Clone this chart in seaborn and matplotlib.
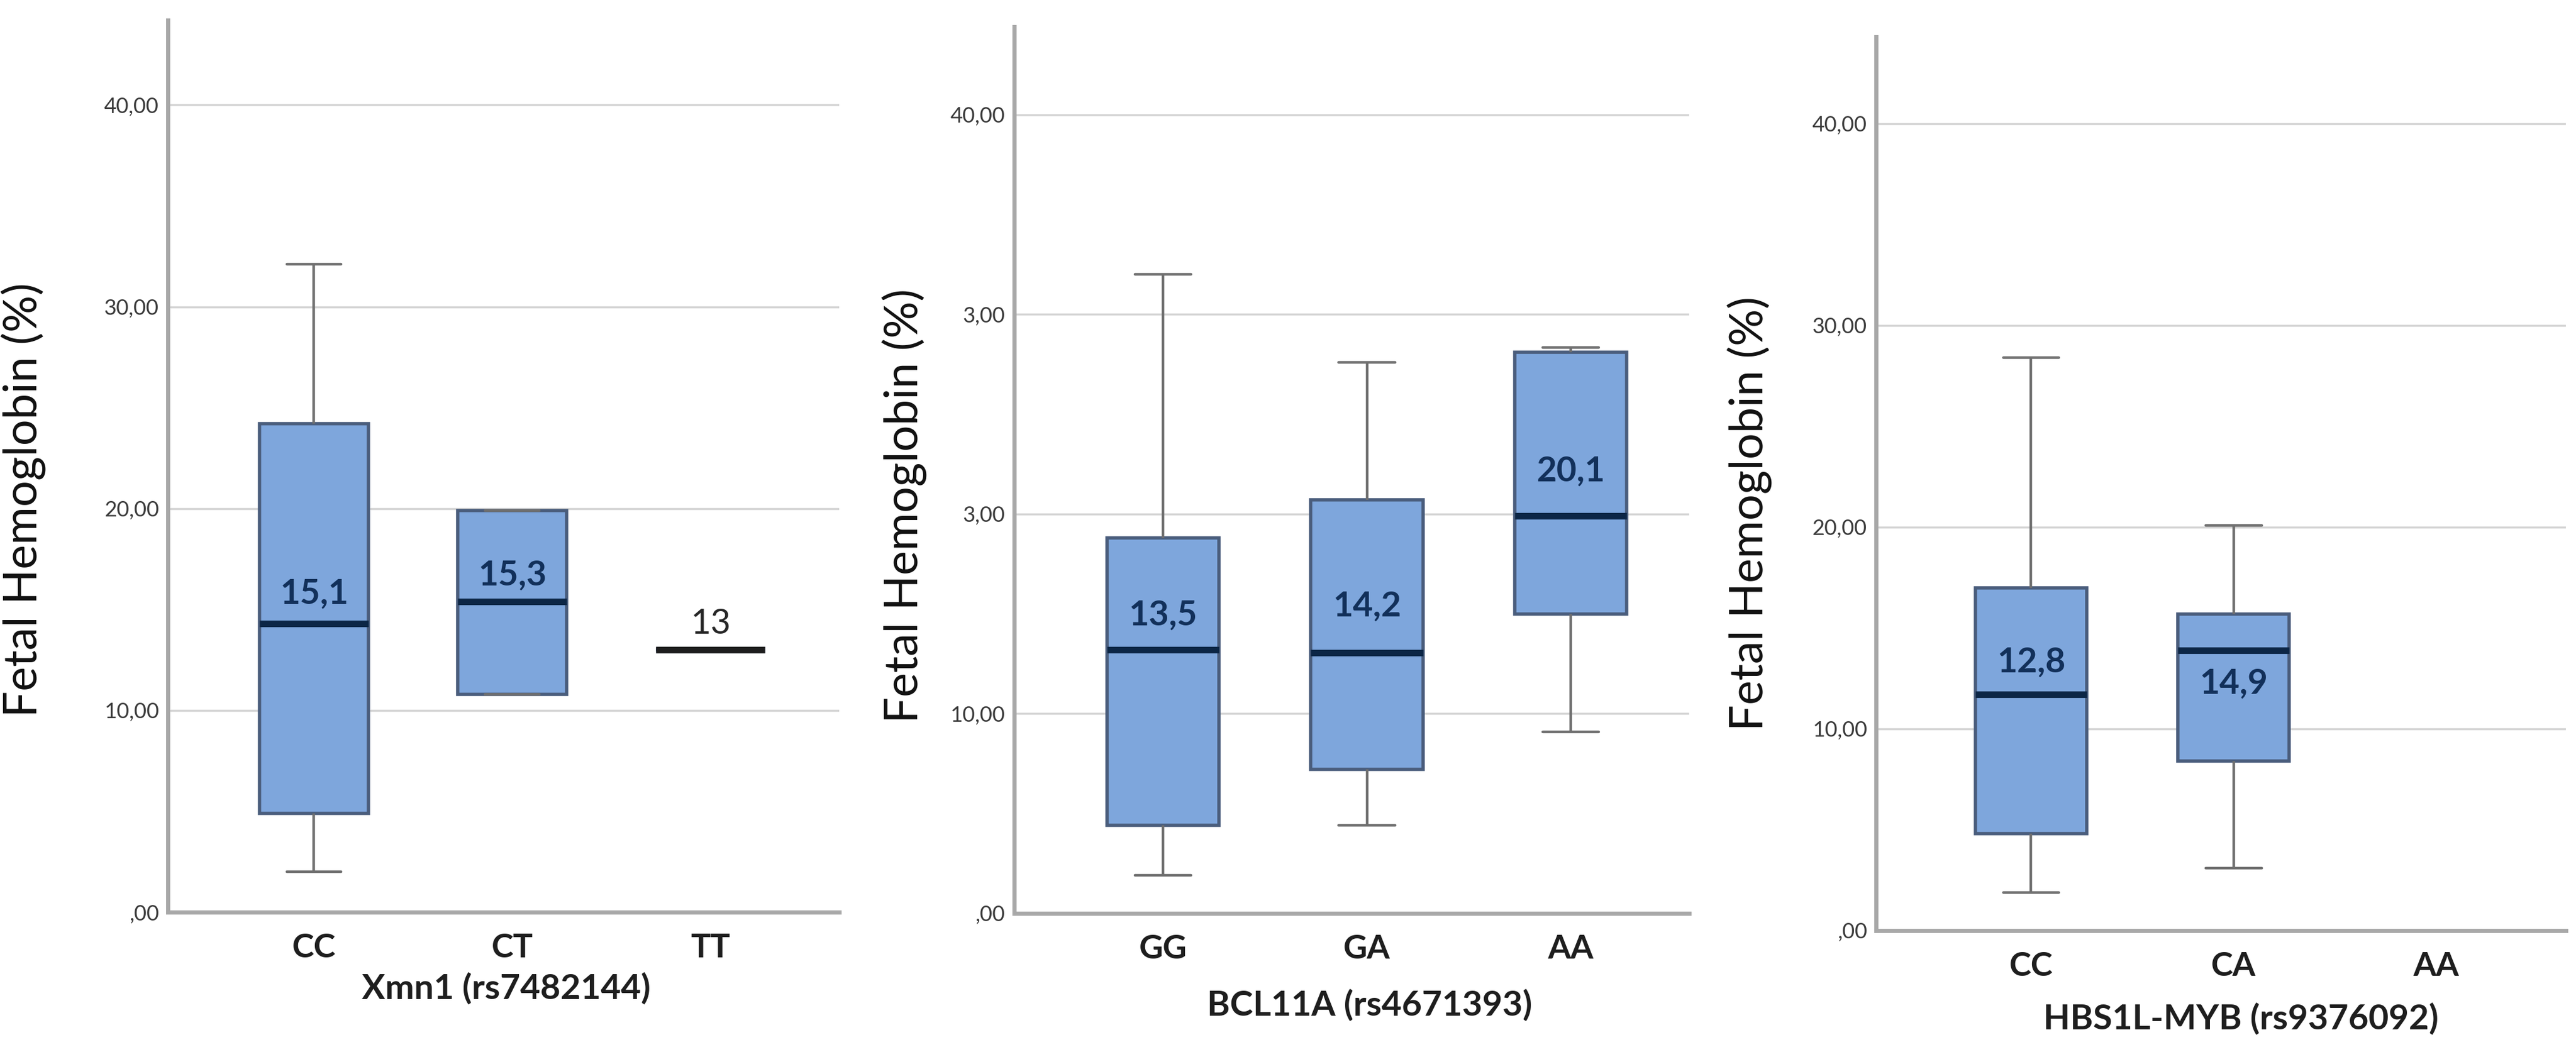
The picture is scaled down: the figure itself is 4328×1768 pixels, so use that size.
import numpy as np
import pandas as pd
import matplotlib
matplotlib.use('Agg')
import matplotlib.pyplot as plt
import seaborn as sns

########################################################################################
# data (five-number summary per genotype, label = mean value)
########################################################################################

# Xmn1 (rs7482144)
xmn1_order = ['CC', 'CT', 'TT']
xmn1_groups = ['CC', 'CT', 'TT']
xmn1_low = [2.0, 10.8, 13.0]
xmn1_q1 = [4.9, 10.8, 13.0]
xmn1_median = [14.3, 15.4, 13.0]
xmn1_q3 = [24.2, 19.9, 13.0]
xmn1_high = [32.1, 19.9, 13.0]
xmn1_labels = ['15,1', '15,3', '13']

# BCL11A (rs4671393)
bcl_order = ['GG', 'GA', 'AA']
bcl_groups = ['GG', 'GA', 'AA']
bcl_low = [1.9, 4.4, 9.1]
bcl_q1 = [4.4, 7.2, 15.0]
bcl_median = [13.2, 13.05, 19.9]
bcl_q3 = [18.8, 20.7, 28.1]
bcl_high = [32.0, 27.6, 28.35]
bcl_labels = ['13,5', '14,2', '20,1']

# HBS1L-MYB (rs9376092), no AA carriers
hbs_order = ['CC', 'CA', 'AA']
hbs_groups = ['CC', 'CA']
hbs_low = [1.9, 3.1]
hbs_q1 = [4.8, 8.4]
hbs_median = [11.7, 13.9]
hbs_q3 = [17.0, 15.7]
hbs_high = [28.4, 20.1]
hbs_labels = ['12,8', '14,9']

yticks = [0, 10, 20, 30, 40]
ytick_labels = [',00', '10,00', '20,00', '30,00', '40,00']
ytick_labels_bcl = [',00', '10,00', '3,00', '3,00', '40,00']

########################################################################################
# style
########################################################################################

sns.set_style('white')
plt.rcParams['font.family'] = ['Lato', 'DejaVu Sans']

box_fill = '#7ea6dc'
box_edge = '#4a5d7c'
median_color = '#0c2646'
whisker_color = '#6f6f6f'
grid_color = '#d4d4d4'
spine_color = '#a8a8a8'
label_color = '#12305a'

fig = plt.figure(figsize=(43.28, 17.68), dpi=100)

panels = [
    dict(order=xmn1_order, groups=xmn1_groups, low=xmn1_low, q1=xmn1_q1, med=xmn1_median,
         q3=xmn1_q3, high=xmn1_high, labels=xmn1_labels, ticks=ytick_labels,
         xlabel='Xmn1 (rs7482144)', rect=[0.0652, 0.1329, 0.2606, 0.8479],
         xlim=(-0.736, 2.65), ytop=44.2, dy=[50, 43, 44],
         ylab_pos=(0.009, 0.525), xlab_pos=(0.1966, 0.060)),
    dict(order=bcl_order, groups=bcl_groups, low=bcl_low, q1=bcl_q1, med=bcl_median,
         q3=bcl_q3, high=bcl_high, labels=bcl_labels, ticks=ytick_labels_bcl,
         xlabel='BCL11A (rs4671393)', rect=[0.3937, 0.1318, 0.2620, 0.8427],
         xlim=(-0.73, 2.58), ytop=44.4, dy=[58, 78, 75],
         ylab_pos=(0.351, 0.519), xlab_pos=(0.5317, 0.044)),
    dict(order=hbs_order, groups=hbs_groups, low=hbs_low, q1=hbs_q1, med=hbs_median,
         q3=hbs_q3, high=hbs_high, labels=hbs_labels, ticks=ytick_labels,
         xlabel='HBS1L-MYB (rs9376092)', rect=[0.7283, 0.1154, 0.2678, 0.8495],
         xlim=(-0.765, 2.64), ytop=44.3, dy=[54, -57],
         ylab_pos=(0.679, 0.512), xlab_pos=(0.8699, 0.031)),
]

for p in panels:
    # 5 values per group -> quartiles land exactly on the read values
    rows = []
    for i, g in enumerate(p['groups']):
        for v in [p['low'][i], p['q1'][i], p['med'][i], p['q3'][i], p['high'][i]]:
            rows.append({'genotype': g, 'hbf': v})
    df = pd.DataFrame(rows)

    ax = fig.add_axes(p['rect'])
    sns.boxplot(data=df, x='genotype', y='hbf', order=p['order'], whis=(0, 100),
                width=0.55, color=box_fill, saturation=1, ax=ax, showfliers=False,
                boxprops={'facecolor': box_fill, 'edgecolor': box_edge, 'linewidth': 4},
                medianprops={'color': median_color, 'linewidth': 8},
                whiskerprops={'color': whisker_color, 'linewidth': 3.2},
                capprops={'color': whisker_color, 'linewidth': 3.2})

    # single-value group (TT): shown as a plain dark line
    for i, g in enumerate(p['groups']):
        if p['low'][i] == p['high'][i]:
            ax.hlines(p['med'][i], i - 0.275, i + 0.275, color='#1e1e1e', lw=8, zorder=5)

    for i, g in enumerate(p['groups']):
        single = p['low'][i] == p['high'][i]
        ax.annotate(p['labels'][i], xy=(i, p['med'][i]), xytext=(0, p['dy'][i]),
                    textcoords='offset pixels', ha='center', va='center',
                    fontsize=42, fontweight='normal' if single else 'bold',
                    color='#262626' if single else label_color, zorder=6)

    ax.set_xlim(*p['xlim'])
    ax.set_ylim(0, p['ytop'])
    ax.set_yticks(yticks)
    ax.set_yticklabels(p['ticks'])
    ax.yaxis.grid(True, color=grid_color, linewidth=2.5)
    ax.set_axisbelow(True)
    ax.tick_params(axis='both', length=0)
    ax.tick_params(axis='y', labelsize=26, pad=11, labelcolor='#3a3a3a')
    ax.tick_params(axis='x', labelsize=40, pad=25, labelcolor='#1e1e1e')
    for lab in ax.get_xticklabels():
        lab.set_fontweight('bold')
    ax.set_xlabel('')
    ax.set_ylabel('')
    sns.despine(ax=ax)
    for s in ['left', 'bottom']:
        ax.spines[s].set_color(spine_color)
        ax.spines[s].set_linewidth(5)

    fig.text(p['ylab_pos'][0], p['ylab_pos'][1], 'Fetal Hemoglobin (%)', rotation=90,
             ha='center', va='center', fontsize=56, color='#111111')
    fig.text(p['xlab_pos'][0], p['xlab_pos'][1], p['xlabel'], ha='center', va='center',
             fontsize=42, fontweight='bold', color='#1e1e1e')

plt.savefig('out.png', dpi=100)
plt.close()
